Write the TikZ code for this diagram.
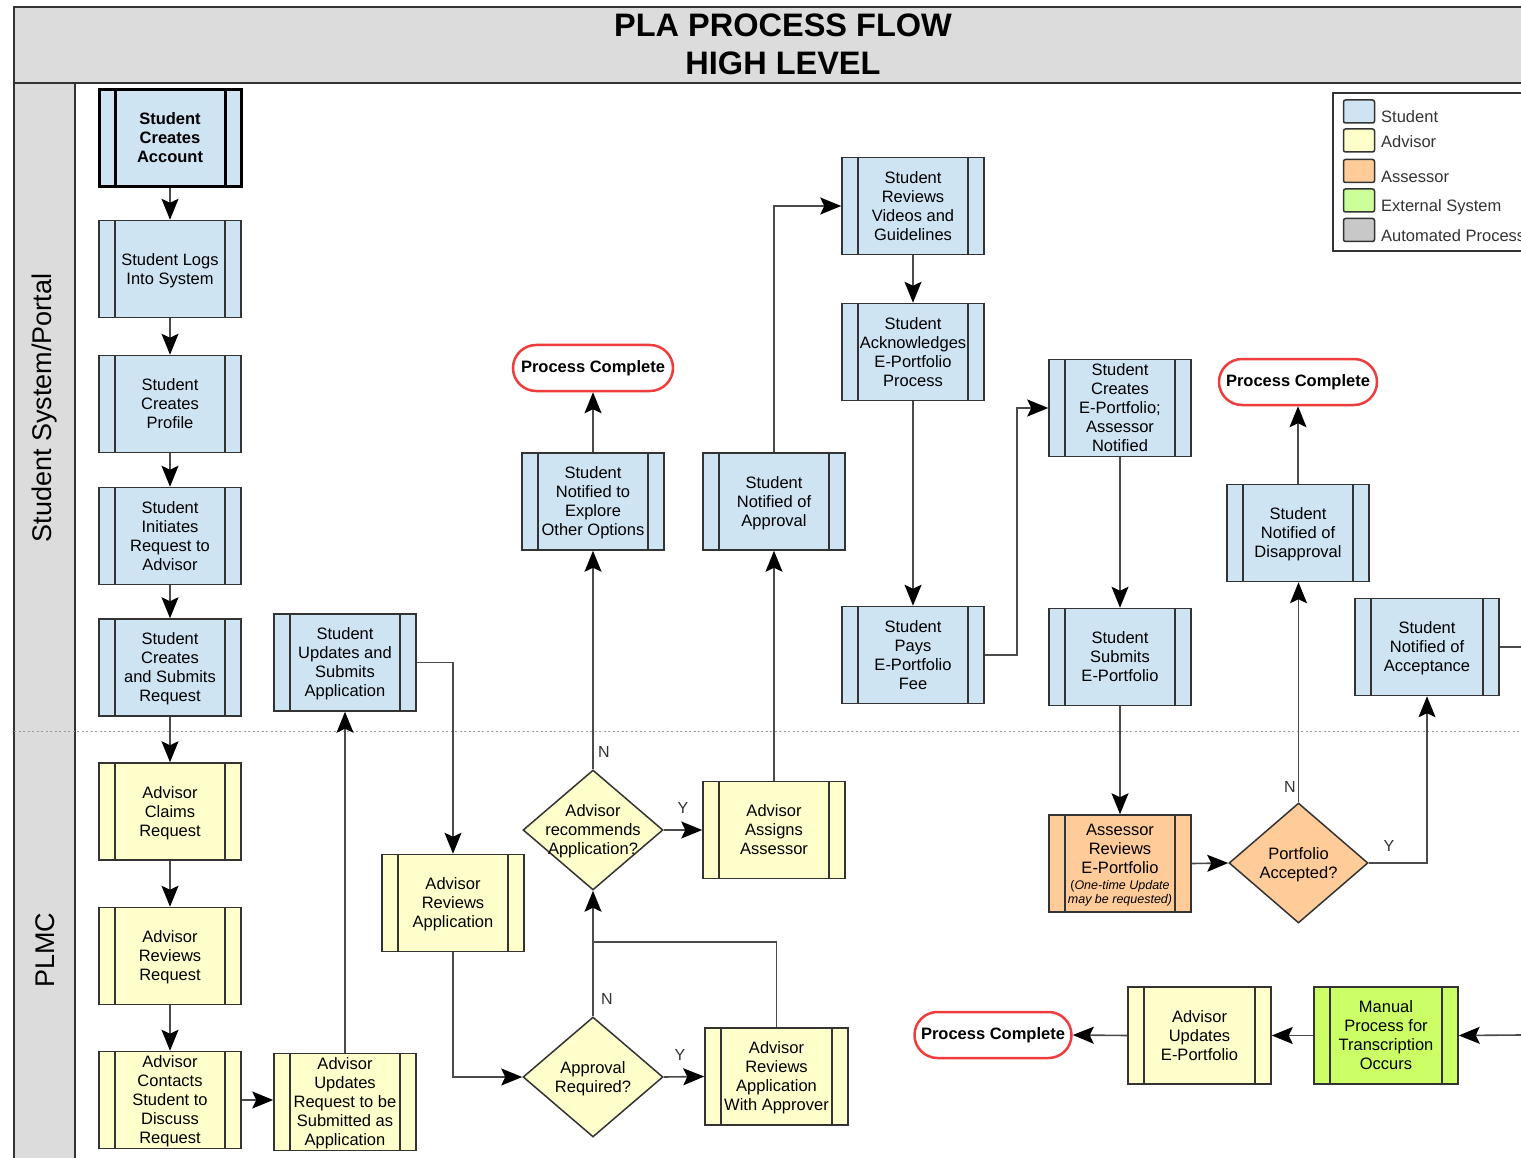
\documentclass[tikz,border=0pt]{standalone}
\usepackage{fontspec}
\setmainfont{Liberation Sans}
\usetikzlibrary{shapes.geometric,arrows.meta,calc}
\definecolor{stu}{HTML}{CFE4F3}
\definecolor{adv}{HTML}{FFFFCC}
\definecolor{ass}{HTML}{FFCC99}
\definecolor{ext}{HTML}{CCFF66}
\definecolor{extl}{HTML}{CCFF99}
\definecolor{aut}{HTML}{C8C8C8}
\definecolor{lanegray}{HTML}{DCDCDC}
\definecolor{edgec}{HTML}{333333}
\definecolor{conncol}{HTML}{4A4A4A}
\definecolor{termred}{HTML}{F03C3C}
\begin{document}
\begin{tikzpicture}[x=1pt,y=-1pt,
 font=\fontsize{16.5}{19}\selectfont,
 procbox/.style={draw=edgec, line width=1.5pt, minimum width=142pt, minimum height=97pt, inner sep=0pt, align=center, text depth=-1.5pt,
   path picture={\draw[edgec,line width=1.5pt] ([xshift=16pt]path picture bounding box.north west) -- ([xshift=16pt]path picture bounding box.south west);
   \draw[edgec,line width=1.5pt] ([xshift=-16pt]path picture bounding box.north east) -- ([xshift=-16pt]path picture bounding box.south east);}},
 procthick/.style={draw=black, line width=3pt, minimum width=142pt, minimum height=97pt, inner sep=0pt, align=center, fill=stu,
   font=\fontsize{16.5}{19}\selectfont\bfseries,
   path picture={\draw[black,line width=3pt] ([xshift=16pt]path picture bounding box.north west) -- ([xshift=16pt]path picture bounding box.south west);
   \draw[black,line width=3pt] ([xshift=-16pt]path picture bounding box.north east) -- ([xshift=-16pt]path picture bounding box.south east);}},
 stubox/.style={procbox, fill=stu},
 advbox/.style={procbox, fill=adv},
 assbox/.style={procbox, fill=ass},
 extbox/.style={procbox, fill=ext},
 dia/.style={diamond, draw=edgec, line width=1.5pt, minimum width=140pt, minimum height=120pt, inner sep=0pt},
 term/.style={draw=termred, line width=2.5pt, fill=white, rounded corners=23pt, minimum width=160pt, minimum height=46pt, inner sep=0pt, font=\fontsize{16.5}{19}\selectfont\bfseries},
 conn/.style={draw=conncol, line width=1.6pt, -{Stealth[length=21pt,width=17pt,inset=4pt,color=black]}},
 plain/.style={draw=conncol, line width=1.6pt},
 yn/.style={font=\fontsize{16}{19}\selectfont, text=edgec},
 swatch/.style={draw=edgec, line width=1.5pt, rounded corners=2pt, minimum width=31pt, minimum height=23pt, inner sep=0pt},
 legtext/.style={anchor=west, inner sep=0pt, text=edgec}
]
\useasboundingbox (0,0) rectangle (1521,1158);
% frame and lanes
\fill[lanegray] (14,7) rectangle (1530,83);
\fill[lanegray] (14,83) rectangle (75,1170);
\draw[edgec, line width=2pt] (1530,7) -- (14,7) -- (14,1170);
\draw[edgec, line width=2pt] (14,83) -- (1530,83);
\draw[edgec, line width=1.5pt] (75,83) -- (75,1170);
\draw[gray!80, line width=1pt, dash pattern=on 2pt off 2.5pt] (14,731) -- (1521,731);
\node[font=\fontsize{32.5}{38}\selectfont\bfseries, align=center] (title) at (783,44) {PLA PROCESS FLOW\\HIGH LEVEL};
\node[rotate=90, font=\fontsize{27}{30}\selectfont] (lane1) at (45,408) {Student System/Portal};
\node[rotate=90, font=\fontsize{27}{30}\selectfont] (lane2) at (45,950) {PLMC};

% legend
\draw[edgec, line width=1.5pt, fill=white] (1530,93) -- (1333,93) -- (1333,251) -- (1530,251);
\node[swatch, fill=stu] (lg1) at (1359,111.5) {};
\node[swatch, fill=adv] (lg2) at (1359,140.5) {};
\node[swatch, fill=ass] (lg3) at (1359,171) {};
\node[swatch, fill=extl] (lg4) at (1359,200.5) {};
\node[swatch, fill=aut] (lg5) at (1359,230) {};
\node[legtext] (lt1) at (1381,117) {Student};
\node[legtext] (lt2) at (1381,142) {Advisor};
\node[legtext] (lt3) at (1381,177) {Assessor};
\node[legtext] (lt4) at (1381,207) {External System};
\node[legtext] (lt5) at (1381,236) {Automated Process};

% column 1
\node[procthick] (sca) at (170,138) {Student\\Creates\\Account};
\node[stubox] (slogs) at (170,269) {Student Logs\\Into System};
\node[stubox] (sprof) at (170,404) {Student\\Creates\\Profile};
\node[stubox] (sinit) at (170,536) {Student\\Initiates\\Request to\\Advisor};
\node[stubox] (ssub) at (170,667.5) {Student\\Creates\\and Submits\\Request};
\node[advbox] (aclaim) at (170,811.5) {Advisor\\Claims\\Request};
\node[advbox] (arev) at (170,956) {Advisor\\Reviews\\Request};
\node[advbox] (acont) at (170,1100) {Advisor\\Contacts\\Student to\\Discuss\\Request};
% column 2
\node[stubox] (supd) at (345,662.5) {Student\\Updates and\\Submits\\Application};
\node[advbox] (aupdreq) at (345,1102) {Advisor\\Updates\\Request to be\\Submitted as\\Application};
% column 3
\node[advbox] (arevapp) at (453,903) {Advisor\\Reviews\\Application};
% column 4
\node[term] (pc1) at (593,368) {Process Complete};
\node[stubox] (snexp) at (593,501.5) {Student\\Notified to\\Explore\\Other Options};
\node[dia, fill=adv, label={[align=center, name=d1t, yshift=-1.5pt]center:Advisor\\recommends\\Application?}] (d1) at (593,830) {};
\node[dia, fill=adv, label={[align=center, name=d2t, yshift=-1.5pt]center:Approval\\Required?}] (d2) at (593,1077) {};
% column 5
\node[stubox] (snappr) at (774,501.5) {Student\\Notified of\\Approval};
\node[advbox] (aassign) at (774,830) {Advisor\\Assigns\\Assessor};
\node[advbox, minimum width=143pt] (arevappr) at (776.5,1076.5) {Advisor\\Reviews\\Application\\With Approver};
% column 6
\node[stubox] (svid) at (913,206) {Student\\Reviews\\Videos and\\Guidelines};
\node[stubox] (sack) at (913,352) {Student\\Acknowledges\\E-Portfolio\\Process};
\node[stubox] (spay) at (913,655) {Student\\Pays\\E-Portfolio\\Fee};
\node[term, minimum width=157pt] (pc2) at (993,1035) {Process Complete};
% column 7
\node[stubox] (screate) at (1120,408) {Student\\Creates\\E-Portfolio;\\Assessor\\Notified};
\node[stubox] (ssubmit) at (1120,657) {Student\\Submits\\E-Portfolio};
\node[assbox] (asrev) at (1120,863.5) {Assessor\\Reviews\\E-Portfolio\\[-3pt]{\fontsize{12.5}{14}\selectfont(\textit{One-time Update}}\\[-5pt]{\fontsize{12.5}{14}\selectfont\textit{may be requested)}}};
\node[advbox, minimum width=143pt] (aupdep) at (1199.5,1035.5) {Advisor\\Updates\\E-Portfolio};
% column 8
\node[term, minimum width=158pt] (pc3) at (1298,382) {Process Complete};
\node[stubox] (sdis) at (1298,533) {Student\\Notified of\\Disapproval};
\node[dia, fill=ass, minimum width=139pt, label={[align=center, name=d3t, yshift=-1.5pt]center:Portfolio\\Accepted?}] (d3) at (1298.5,863) {};
% column 9
\node[stubox, minimum width=144pt] (sacc) at (1427,647) {Student\\Notified of\\Acceptance};
\node[extbox, minimum width=144pt] (manual) at (1386,1035.5) {Manual\\Process for\\Transcription\\Occurs};

\coordinate (j1) at (593,942);
\coordinate (j2) at (1017,0);
\coordinate (eout) at (1521,647);
\coordinate (ein) at (1521,1035);

% connectors
\draw[conn] (sca) -- (slogs);
\draw[conn] (slogs) -- (sprof);
\draw[conn] (sprof) -- (sinit);
\draw[conn] (sinit) -- (ssub);
\draw[conn] (ssub) -- (aclaim);
\draw[conn] (aclaim) -- (arev);
\draw[conn] (arev) -- (acont);
\draw[conn] (acont.east) -- (acont.east -| aupdreq.west);
\draw[conn] (aupdreq.north) -- (supd.south);
\draw[conn] (supd.east) -| (arevapp.north);
\draw[conn] (arevapp.south) |- (d2.west);
\draw[plain] (arevappr.north) |- (j1);
\draw[conn] (d2.north) -- (d1.south);
\draw[conn] (d2.east) -- (arevappr.west);
\draw[conn] (d1.north) -- (snexp.south);
\draw[conn] (d1.east) -- (aassign.west);
\draw[conn] (snexp.north) -- (pc1.south);
\draw[conn] (aassign.north) -- (snappr.south);
\draw[conn] (snappr.north) |- (svid.west);
\draw[conn] (svid) -- (sack);
\draw[conn] (sack) -- (spay);
\draw[conn] (spay.east) -- (spay.east -| j2) |- (screate.west);
\draw[conn] (screate) -- (ssubmit);
\draw[conn] (ssubmit) -- (asrev);
\draw[conn] (asrev.east) -- (d3.west);
\draw[conn] (d3.north) -- (d3.north |- sdis.south);
\draw[conn] (sdis.north) -- (sdis.north |- pc3.south);
\draw[conn] (d3.east) -| (sacc.south);
\draw[plain] (sacc.east) -- (eout);
\draw[conn] (ein) -- (manual.east);
\draw[conn] (manual.west) -- (aupdep.east);
\draw[conn] (aupdep.west) -- (pc2.east);

% Y/N labels
\node[yn] (n1) at (604,752) {N};
\node[yn] (y1) at (683,808) {Y};
\node[yn] (n2) at (607,999) {N};
\node[yn] (y2) at (680,1055) {Y};
\node[yn] (n3) at (1290,787) {N};
\node[yn] (y3) at (1389,846) {Y};
\end{tikzpicture}
\end{document}
